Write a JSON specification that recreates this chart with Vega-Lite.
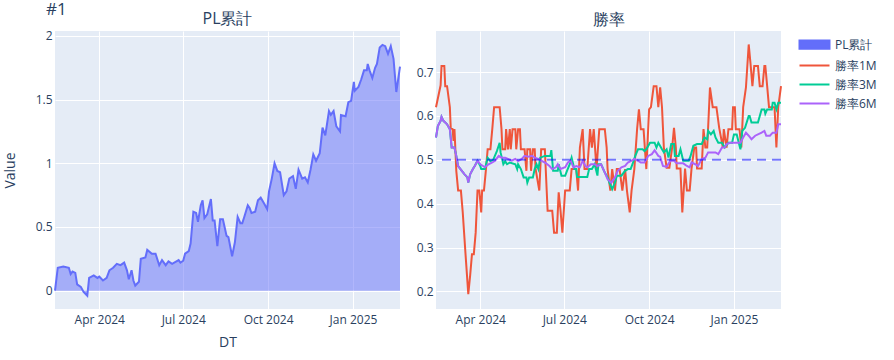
{
  "$schema": "https://vega.github.io/schema/vega-lite/v6.json",
  "padding": {"left": 3, "top": 0, "right": 0, "bottom": 0},
  "title": {"text": "#1", "anchor": "start", "frame": "group", "fontSize": 17, "offset": -21, "dx": -9, "baseline": "alphabetic"},
  "datasets": {
    "pl": [
      {"d":"2024-02-13","s":"PL累計","v":0},
      {"d":"2024-02-16","s":"PL累計","v":0.18},
      {"d":"2024-02-22","s":"PL累計","v":0.19},
      {"d":"2024-02-28","s":"PL累計","v":0.18},
      {"d":"2024-03-01","s":"PL累計","v":0.13},
      {"d":"2024-03-03","s":"PL累計","v":0.15},
      {"d":"2024-03-06","s":"PL累計","v":0.14},
      {"d":"2024-03-08","s":"PL累計","v":0.05},
      {"d":"2024-03-12","s":"PL累計","v":0.03},
      {"d":"2024-03-15","s":"PL累計","v":-0.01},
      {"d":"2024-03-19","s":"PL累計","v":-0.04},
      {"d":"2024-03-21","s":"PL累計","v":0.10},
      {"d":"2024-03-26","s":"PL累計","v":0.12},
      {"d":"2024-03-30","s":"PL累計","v":0.10},
      {"d":"2024-04-01","s":"PL累計","v":0.11},
      {"d":"2024-04-05","s":"PL累計","v":0.08},
      {"d":"2024-04-09","s":"PL累計","v":0.10},
      {"d":"2024-04-12","s":"PL累計","v":0.16},
      {"d":"2024-04-16","s":"PL累計","v":0.18},
      {"d":"2024-04-20","s":"PL累計","v":0.21},
      {"d":"2024-04-24","s":"PL累計","v":0.20},
      {"d":"2024-04-28","s":"PL累計","v":0.22},
      {"d":"2024-05-01","s":"PL累計","v":0.16},
      {"d":"2024-05-03","s":"PL累計","v":0.09},
      {"d":"2024-05-06","s":"PL累計","v":0.16},
      {"d":"2024-05-08","s":"PL累計","v":0.08},
      {"d":"2024-05-10","s":"PL累計","v":0.04},
      {"d":"2024-05-14","s":"PL累計","v":0.07},
      {"d":"2024-05-16","s":"PL累計","v":0.25},
      {"d":"2024-05-21","s":"PL累計","v":0.26},
      {"d":"2024-05-23","s":"PL累計","v":0.32},
      {"d":"2024-05-28","s":"PL累計","v":0.29},
      {"d":"2024-06-01","s":"PL累計","v":0.29},
      {"d":"2024-06-05","s":"PL累計","v":0.20},
      {"d":"2024-06-08","s":"PL累計","v":0.24},
      {"d":"2024-06-12","s":"PL累計","v":0.20},
      {"d":"2024-06-15","s":"PL累計","v":0.23},
      {"d":"2024-06-19","s":"PL累計","v":0.21},
      {"d":"2024-06-26","s":"PL累計","v":0.24},
      {"d":"2024-06-28","s":"PL累計","v":0.22},
      {"d":"2024-07-01","s":"PL累計","v":0.235},
      {"d":"2024-07-03","s":"PL累計","v":0.29},
      {"d":"2024-07-07","s":"PL累計","v":0.31},
      {"d":"2024-07-09","s":"PL累計","v":0.37},
      {"d":"2024-07-12","s":"PL累計","v":0.62},
      {"d":"2024-07-15","s":"PL累計","v":0.61},
      {"d":"2024-07-17","s":"PL累計","v":0.54},
      {"d":"2024-07-20","s":"PL累計","v":0.67},
      {"d":"2024-07-22","s":"PL累計","v":0.71},
      {"d":"2024-07-24","s":"PL累計","v":0.57},
      {"d":"2024-07-27","s":"PL累計","v":0.60},
      {"d":"2024-07-31","s":"PL累計","v":0.72},
      {"d":"2024-08-02","s":"PL累計","v":0.55},
      {"d":"2024-08-04","s":"PL累計","v":0.55},
      {"d":"2024-08-07","s":"PL累計","v":0.35},
      {"d":"2024-08-10","s":"PL累計","v":0.56},
      {"d":"2024-08-13","s":"PL累計","v":0.56},
      {"d":"2024-08-17","s":"PL累計","v":0.43},
      {"d":"2024-08-19","s":"PL累計","v":0.42},
      {"d":"2024-08-23","s":"PL累計","v":0.27},
      {"d":"2024-08-26","s":"PL累計","v":0.38},
      {"d":"2024-08-29","s":"PL累計","v":0.58},
      {"d":"2024-09-01","s":"PL累計","v":0.53},
      {"d":"2024-09-03","s":"PL累計","v":0.53},
      {"d":"2024-09-05","s":"PL累計","v":0.575},
      {"d":"2024-09-09","s":"PL累計","v":0.67},
      {"d":"2024-09-11","s":"PL累計","v":0.65},
      {"d":"2024-09-13","s":"PL累計","v":0.61},
      {"d":"2024-09-17","s":"PL累計","v":0.62},
      {"d":"2024-09-20","s":"PL累計","v":0.71},
      {"d":"2024-09-23","s":"PL累計","v":0.73},
      {"d":"2024-09-27","s":"PL累計","v":0.68},
      {"d":"2024-09-30","s":"PL累計","v":0.64},
      {"d":"2024-10-02","s":"PL累計","v":0.78},
      {"d":"2024-10-05","s":"PL累計","v":0.88},
      {"d":"2024-10-08","s":"PL累計","v":1.0},
      {"d":"2024-10-11","s":"PL累計","v":0.94},
      {"d":"2024-10-14","s":"PL累計","v":0.93},
      {"d":"2024-10-18","s":"PL累計","v":0.75},
      {"d":"2024-10-21","s":"PL累計","v":0.78},
      {"d":"2024-10-24","s":"PL累計","v":0.88},
      {"d":"2024-10-28","s":"PL累計","v":0.90},
      {"d":"2024-10-31","s":"PL累計","v":0.80},
      {"d":"2024-11-03","s":"PL累計","v":0.95},
      {"d":"2024-11-07","s":"PL累計","v":0.88},
      {"d":"2024-11-10","s":"PL累計","v":0.89},
      {"d":"2024-11-13","s":"PL累計","v":0.85},
      {"d":"2024-11-16","s":"PL累計","v":0.95},
      {"d":"2024-11-19","s":"PL累計","v":1.07},
      {"d":"2024-11-22","s":"PL累計","v":1.02},
      {"d":"2024-11-26","s":"PL累計","v":1.08},
      {"d":"2024-11-29","s":"PL累計","v":1.28},
      {"d":"2024-12-02","s":"PL累計","v":1.22},
      {"d":"2024-12-06","s":"PL累計","v":1.41},
      {"d":"2024-12-08","s":"PL累計","v":1.38},
      {"d":"2024-12-11","s":"PL累計","v":1.41},
      {"d":"2024-12-14","s":"PL累計","v":1.29},
      {"d":"2024-12-18","s":"PL累計","v":1.25},
      {"d":"2024-12-19","s":"PL累計","v":1.38},
      {"d":"2024-12-24","s":"PL累計","v":1.37},
      {"d":"2024-12-27","s":"PL累計","v":1.48},
      {"d":"2024-12-30","s":"PL累計","v":1.49},
      {"d":"2025-01-02","s":"PL累計","v":1.64},
      {"d":"2025-01-03","s":"PL累計","v":1.57},
      {"d":"2025-01-07","s":"PL累計","v":1.60},
      {"d":"2025-01-10","s":"PL累計","v":1.66},
      {"d":"2025-01-13","s":"PL累計","v":1.73},
      {"d":"2025-01-16","s":"PL累計","v":1.73},
      {"d":"2025-01-17","s":"PL累計","v":1.78},
      {"d":"2025-01-19","s":"PL累計","v":1.73},
      {"d":"2025-01-22","s":"PL累計","v":1.67},
      {"d":"2025-01-25","s":"PL累計","v":1.75},
      {"d":"2025-01-27","s":"PL累計","v":1.78},
      {"d":"2025-01-30","s":"PL累計","v":1.91},
      {"d":"2025-02-02","s":"PL累計","v":1.93},
      {"d":"2025-02-05","s":"PL累計","v":1.92},
      {"d":"2025-02-08","s":"PL累計","v":1.86},
      {"d":"2025-02-11","s":"PL累計","v":1.92},
      {"d":"2025-02-14","s":"PL累計","v":1.82},
      {"d":"2025-02-17","s":"PL累計","v":1.56},
      {"d":"2025-02-21","s":"PL累計","v":1.76}
    ],
    "wr": [
      {"d":"2024-02-13","s":"勝率1M","v":0.62},
      {"d":"2024-02-18","s":"勝率1M","v":0.67},
      {"d":"2024-02-19","s":"勝率1M","v":0.714},
      {"d":"2024-02-22","s":"勝率1M","v":0.714},
      {"d":"2024-02-23","s":"勝率1M","v":0.668},
      {"d":"2024-02-25","s":"勝率1M","v":0.668},
      {"d":"2024-02-28","s":"勝率1M","v":0.62},
      {"d":"2024-02-29","s":"勝率1M","v":0.572},
      {"d":"2024-03-02","s":"勝率1M","v":0.57},
      {"d":"2024-03-03","s":"勝率1M","v":0.543},
      {"d":"2024-03-04","s":"勝率1M","v":0.57},
      {"d":"2024-03-05","s":"勝率1M","v":0.524},
      {"d":"2024-03-06","s":"勝率1M","v":0.475},
      {"d":"2024-03-08","s":"勝率1M","v":0.43},
      {"d":"2024-03-11","s":"勝率1M","v":0.43},
      {"d":"2024-03-13","s":"勝率1M","v":0.38},
      {"d":"2024-03-16","s":"勝率1M","v":0.285},
      {"d":"2024-03-19","s":"勝率1M","v":0.194},
      {"d":"2024-03-21","s":"勝率1M","v":0.236},
      {"d":"2024-03-23","s":"勝率1M","v":0.285},
      {"d":"2024-03-25","s":"勝率1M","v":0.285},
      {"d":"2024-03-27","s":"勝率1M","v":0.334},
      {"d":"2024-03-29","s":"勝率1M","v":0.43},
      {"d":"2024-03-31","s":"勝率1M","v":0.43},
      {"d":"2024-04-02","s":"勝率1M","v":0.38},
      {"d":"2024-04-03","s":"勝率1M","v":0.43},
      {"d":"2024-04-05","s":"勝率1M","v":0.43},
      {"d":"2024-04-07","s":"勝率1M","v":0.475},
      {"d":"2024-04-09","s":"勝率1M","v":0.524},
      {"d":"2024-04-12","s":"勝率1M","v":0.524},
      {"d":"2024-04-14","s":"勝率1M","v":0.57},
      {"d":"2024-04-16","s":"勝率1M","v":0.62},
      {"d":"2024-04-22","s":"勝率1M","v":0.62},
      {"d":"2024-04-24","s":"勝率1M","v":0.57},
      {"d":"2024-04-25","s":"勝率1M","v":0.524},
      {"d":"2024-04-28","s":"勝率1M","v":0.524},
      {"d":"2024-04-29","s":"勝率1M","v":0.57},
      {"d":"2024-05-01","s":"勝率1M","v":0.524},
      {"d":"2024-05-03","s":"勝率1M","v":0.57},
      {"d":"2024-05-04","s":"勝率1M","v":0.524},
      {"d":"2024-05-06","s":"勝率1M","v":0.57},
      {"d":"2024-05-09","s":"勝率1M","v":0.57},
      {"d":"2024-05-10","s":"勝率1M","v":0.524},
      {"d":"2024-05-12","s":"勝率1M","v":0.57},
      {"d":"2024-05-14","s":"勝率1M","v":0.57},
      {"d":"2024-05-15","s":"勝率1M","v":0.524},
      {"d":"2024-05-19","s":"勝率1M","v":0.524},
      {"d":"2024-05-21","s":"勝率1M","v":0.475},
      {"d":"2024-05-22","s":"勝率1M","v":0.524},
      {"d":"2024-05-25","s":"勝率1M","v":0.524},
      {"d":"2024-05-26","s":"勝率1M","v":0.475},
      {"d":"2024-05-28","s":"勝率1M","v":0.524},
      {"d":"2024-05-30","s":"勝率1M","v":0.524},
      {"d":"2024-05-31","s":"勝率1M","v":0.479},
      {"d":"2024-06-04","s":"勝率1M","v":0.43},
      {"d":"2024-06-06","s":"勝率1M","v":0.524},
      {"d":"2024-06-10","s":"勝率1M","v":0.524},
      {"d":"2024-06-12","s":"勝率1M","v":0.43},
      {"d":"2024-06-13","s":"勝率1M","v":0.384},
      {"d":"2024-06-18","s":"勝率1M","v":0.384},
      {"d":"2024-06-20","s":"勝率1M","v":0.334},
      {"d":"2024-06-23","s":"勝率1M","v":0.334},
      {"d":"2024-06-25","s":"勝率1M","v":0.426},
      {"d":"2024-06-27","s":"勝率1M","v":0.384},
      {"d":"2024-06-29","s":"勝率1M","v":0.334},
      {"d":"2024-07-02","s":"勝率1M","v":0.43},
      {"d":"2024-07-07","s":"勝率1M","v":0.43},
      {"d":"2024-07-09","s":"勝率1M","v":0.479},
      {"d":"2024-07-14","s":"勝率1M","v":0.479},
      {"d":"2024-07-16","s":"勝率1M","v":0.43},
      {"d":"2024-07-18","s":"勝率1M","v":0.528},
      {"d":"2024-07-21","s":"勝率1M","v":0.57},
      {"d":"2024-07-23","s":"勝率1M","v":0.479},
      {"d":"2024-07-26","s":"勝率1M","v":0.479},
      {"d":"2024-07-29","s":"勝率1M","v":0.57},
      {"d":"2024-07-31","s":"勝率1M","v":0.528},
      {"d":"2024-08-02","s":"勝率1M","v":0.57},
      {"d":"2024-08-05","s":"勝率1M","v":0.479},
      {"d":"2024-08-08","s":"勝率1M","v":0.57},
      {"d":"2024-08-14","s":"勝率1M","v":0.57},
      {"d":"2024-08-16","s":"勝率1M","v":0.528},
      {"d":"2024-08-17","s":"勝率1M","v":0.479},
      {"d":"2024-08-20","s":"勝率1M","v":0.43},
      {"d":"2024-08-22","s":"勝率1M","v":0.479},
      {"d":"2024-08-25","s":"勝率1M","v":0.43},
      {"d":"2024-08-27","s":"勝率1M","v":0.479},
      {"d":"2024-08-30","s":"勝率1M","v":0.479},
      {"d":"2024-09-02","s":"勝率1M","v":0.43},
      {"d":"2024-09-05","s":"勝率1M","v":0.479},
      {"d":"2024-09-07","s":"勝率1M","v":0.43},
      {"d":"2024-09-10","s":"勝率1M","v":0.38},
      {"d":"2024-09-12","s":"勝率1M","v":0.43},
      {"d":"2024-09-15","s":"勝率1M","v":0.479},
      {"d":"2024-09-18","s":"勝率1M","v":0.57},
      {"d":"2024-09-20","s":"勝率1M","v":0.615},
      {"d":"2024-09-22","s":"勝率1M","v":0.57},
      {"d":"2024-09-25","s":"勝率1M","v":0.57},
      {"d":"2024-09-28","s":"勝率1M","v":0.479},
      {"d":"2024-10-01","s":"勝率1M","v":0.615},
      {"d":"2024-10-03","s":"勝率1M","v":0.62},
      {"d":"2024-10-06","s":"勝率1M","v":0.668},
      {"d":"2024-10-09","s":"勝率1M","v":0.668},
      {"d":"2024-10-11","s":"勝率1M","v":0.62},
      {"d":"2024-10-13","s":"勝率1M","v":0.665},
      {"d":"2024-10-15","s":"勝率1M","v":0.62},
      {"d":"2024-10-17","s":"勝率1M","v":0.528},
      {"d":"2024-10-20","s":"勝率1M","v":0.482},
      {"d":"2024-10-23","s":"勝率1M","v":0.482},
      {"d":"2024-10-26","s":"勝率1M","v":0.528},
      {"d":"2024-10-28","s":"勝率1M","v":0.573},
      {"d":"2024-10-30","s":"勝率1M","v":0.528},
      {"d":"2024-10-31","s":"勝率1M","v":0.48},
      {"d":"2024-11-04","s":"勝率1M","v":0.48},
      {"d":"2024-11-06","s":"勝率1M","v":0.38},
      {"d":"2024-11-09","s":"勝率1M","v":0.48},
      {"d":"2024-11-11","s":"勝率1M","v":0.43},
      {"d":"2024-11-14","s":"勝率1M","v":0.43},
      {"d":"2024-11-16","s":"勝率1M","v":0.48},
      {"d":"2024-11-19","s":"勝率1M","v":0.528},
      {"d":"2024-11-21","s":"勝率1M","v":0.528},
      {"d":"2024-11-22","s":"勝率1M","v":0.48},
      {"d":"2024-11-27","s":"勝率1M","v":0.48},
      {"d":"2024-11-29","s":"勝率1M","v":0.57},
      {"d":"2024-12-01","s":"勝率1M","v":0.528},
      {"d":"2024-12-03","s":"勝率1M","v":0.528},
      {"d":"2024-12-06","s":"勝率1M","v":0.665},
      {"d":"2024-12-09","s":"勝率1M","v":0.62},
      {"d":"2024-12-13","s":"勝率1M","v":0.62},
      {"d":"2024-12-16","s":"勝率1M","v":0.573},
      {"d":"2024-12-20","s":"勝率1M","v":0.528},
      {"d":"2024-12-21","s":"勝率1M","v":0.57},
      {"d":"2024-12-24","s":"勝率1M","v":0.528},
      {"d":"2024-12-26","s":"勝率1M","v":0.57},
      {"d":"2024-12-30","s":"勝率1M","v":0.57},
      {"d":"2024-12-31","s":"勝率1M","v":0.62},
      {"d":"2025-01-02","s":"勝率1M","v":0.62},
      {"d":"2025-01-03","s":"勝率1M","v":0.57},
      {"d":"2025-01-07","s":"勝率1M","v":0.57},
      {"d":"2025-01-09","s":"勝率1M","v":0.528},
      {"d":"2025-01-11","s":"勝率1M","v":0.62},
      {"d":"2025-01-14","s":"勝率1M","v":0.665},
      {"d":"2025-01-17","s":"勝率1M","v":0.763},
      {"d":"2025-01-19","s":"勝率1M","v":0.718},
      {"d":"2025-01-21","s":"勝率1M","v":0.668},
      {"d":"2025-01-23","s":"勝率1M","v":0.714},
      {"d":"2025-01-27","s":"勝率1M","v":0.714},
      {"d":"2025-01-29","s":"勝率1M","v":0.668},
      {"d":"2025-02-01","s":"勝率1M","v":0.668},
      {"d":"2025-02-03","s":"勝率1M","v":0.714},
      {"d":"2025-02-04","s":"勝率1M","v":0.714},
      {"d":"2025-02-06","s":"勝率1M","v":0.668},
      {"d":"2025-02-08","s":"勝率1M","v":0.62},
      {"d":"2025-02-14","s":"勝率1M","v":0.62},
      {"d":"2025-02-16","s":"勝率1M","v":0.528},
      {"d":"2025-02-18","s":"勝率1M","v":0.62},
      {"d":"2025-02-21","s":"勝率1M","v":0.668},

      {"d":"2024-02-13","s":"勝率3M","v":0.551},
      {"d":"2024-02-15","s":"勝率3M","v":0.577},
      {"d":"2024-02-18","s":"勝率3M","v":0.589},
      {"d":"2024-02-19","s":"勝率3M","v":0.598},
      {"d":"2024-02-21","s":"勝率3M","v":0.589},
      {"d":"2024-02-23","s":"勝率3M","v":0.585},
      {"d":"2024-02-25","s":"勝率3M","v":0.581},
      {"d":"2024-02-28","s":"勝率3M","v":0.57},
      {"d":"2024-03-01","s":"勝率3M","v":0.528},
      {"d":"2024-03-04","s":"勝率3M","v":0.528},
      {"d":"2024-03-06","s":"勝率3M","v":0.509},
      {"d":"2024-03-08","s":"勝率3M","v":0.486},
      {"d":"2024-03-12","s":"勝率3M","v":0.475},
      {"d":"2024-03-15","s":"勝率3M","v":0.467},
      {"d":"2024-03-18","s":"勝率3M","v":0.46},
      {"d":"2024-03-19","s":"勝率3M","v":0.448},
      {"d":"2024-03-21","s":"勝率3M","v":0.467},
      {"d":"2024-03-24","s":"勝率3M","v":0.479},
      {"d":"2024-03-26","s":"勝率3M","v":0.486},
      {"d":"2024-03-29","s":"勝率3M","v":0.498},
      {"d":"2024-04-01","s":"勝率3M","v":0.486},
      {"d":"2024-04-02","s":"勝率3M","v":0.479},
      {"d":"2024-04-06","s":"勝率3M","v":0.479},
      {"d":"2024-04-09","s":"勝率3M","v":0.505},
      {"d":"2024-04-12","s":"勝率3M","v":0.497},
      {"d":"2024-04-15","s":"勝率3M","v":0.5},
      {"d":"2024-04-19","s":"勝率3M","v":0.52},
      {"d":"2024-04-22","s":"勝率3M","v":0.539},
      {"d":"2024-04-23","s":"勝率3M","v":0.517},
      {"d":"2024-04-26","s":"勝率3M","v":0.49},
      {"d":"2024-04-28","s":"勝率3M","v":0.497},
      {"d":"2024-04-30","s":"勝率3M","v":0.49},
      {"d":"2024-05-03","s":"勝率3M","v":0.494},
      {"d":"2024-05-09","s":"勝率3M","v":0.49},
      {"d":"2024-05-11","s":"勝率3M","v":0.479},
      {"d":"2024-05-12","s":"勝率3M","v":0.49},
      {"d":"2024-05-15","s":"勝率3M","v":0.479},
      {"d":"2024-05-18","s":"勝率3M","v":0.46},
      {"d":"2024-05-21","s":"勝率3M","v":0.46},
      {"d":"2024-05-22","s":"勝率3M","v":0.448},
      {"d":"2024-05-24","s":"勝率3M","v":0.46},
      {"d":"2024-05-28","s":"勝率3M","v":0.46},
      {"d":"2024-05-30","s":"勝率3M","v":0.479},
      {"d":"2024-06-01","s":"勝率3M","v":0.49},
      {"d":"2024-06-03","s":"勝率3M","v":0.479},
      {"d":"2024-06-05","s":"勝率3M","v":0.505},
      {"d":"2024-06-10","s":"勝率3M","v":0.509},
      {"d":"2024-06-16","s":"勝率3M","v":0.509},
      {"d":"2024-06-17","s":"勝率3M","v":0.522},
      {"d":"2024-06-19","s":"勝率3M","v":0.475},
      {"d":"2024-06-24","s":"勝率3M","v":0.475},
      {"d":"2024-06-25","s":"勝率3M","v":0.49},
      {"d":"2024-06-28","s":"勝率3M","v":0.464},
      {"d":"2024-07-02","s":"勝率3M","v":0.464},
      {"d":"2024-07-04","s":"勝率3M","v":0.475},
      {"d":"2024-07-07","s":"勝率3M","v":0.49},
      {"d":"2024-07-09","s":"勝率3M","v":0.505},
      {"d":"2024-07-12","s":"勝率3M","v":0.479},
      {"d":"2024-07-14","s":"勝率3M","v":0.479},
      {"d":"2024-07-15","s":"勝率3M","v":0.461},
      {"d":"2024-07-26","s":"勝率3M","v":0.461},
      {"d":"2024-07-28","s":"勝率3M","v":0.479},
      {"d":"2024-07-31","s":"勝率3M","v":0.479},
      {"d":"2024-08-03","s":"勝率3M","v":0.49},
      {"d":"2024-08-06","s":"勝率3M","v":0.464},
      {"d":"2024-08-07","s":"勝率3M","v":0.49},
      {"d":"2024-08-10","s":"勝率3M","v":0.49},
      {"d":"2024-08-14","s":"勝率3M","v":0.471},
      {"d":"2024-08-17","s":"勝率3M","v":0.46},
      {"d":"2024-08-19","s":"勝率3M","v":0.448},
      {"d":"2024-08-22","s":"勝率3M","v":0.433},
      {"d":"2024-08-25","s":"勝率3M","v":0.448},
      {"d":"2024-08-27","s":"勝率3M","v":0.464},
      {"d":"2024-09-01","s":"勝率3M","v":0.464},
      {"d":"2024-09-05","s":"勝率3M","v":0.475},
      {"d":"2024-09-08","s":"勝率3M","v":0.479},
      {"d":"2024-09-11","s":"勝率3M","v":0.479},
      {"d":"2024-09-13","s":"勝率3M","v":0.49},
      {"d":"2024-09-16","s":"勝率3M","v":0.509},
      {"d":"2024-09-19","s":"勝率3M","v":0.524},
      {"d":"2024-09-24","s":"勝率3M","v":0.524},
      {"d":"2024-09-26","s":"勝率3M","v":0.52},
      {"d":"2024-09-28","s":"勝率3M","v":0.524},
      {"d":"2024-10-02","s":"勝率3M","v":0.539},
      {"d":"2024-10-07","s":"勝率3M","v":0.539},
      {"d":"2024-10-09","s":"勝率3M","v":0.528},
      {"d":"2024-10-11","s":"勝率3M","v":0.539},
      {"d":"2024-10-15","s":"勝率3M","v":0.524},
      {"d":"2024-10-17","s":"勝率3M","v":0.517},
      {"d":"2024-10-20","s":"勝率3M","v":0.524},
      {"d":"2024-10-22","s":"勝率3M","v":0.505},
      {"d":"2024-10-25","s":"勝率3M","v":0.536},
      {"d":"2024-10-28","s":"勝率3M","v":0.536},
      {"d":"2024-10-29","s":"勝率3M","v":0.509},
      {"d":"2024-11-02","s":"勝率3M","v":0.509},
      {"d":"2024-11-04","s":"勝率3M","v":0.524},
      {"d":"2024-11-07","s":"勝率3M","v":0.498},
      {"d":"2024-11-13","s":"勝率3M","v":0.498},
      {"d":"2024-11-15","s":"勝率3M","v":0.509},
      {"d":"2024-11-18","s":"勝率3M","v":0.532},
      {"d":"2024-11-22","s":"勝率3M","v":0.536},
      {"d":"2024-11-27","s":"勝率3M","v":0.536},
      {"d":"2024-11-30","s":"勝率3M","v":0.551},
      {"d":"2024-12-03","s":"勝率3M","v":0.547},
      {"d":"2024-12-04","s":"勝率3M","v":0.566},
      {"d":"2024-12-07","s":"勝率3M","v":0.558},
      {"d":"2024-12-10","s":"勝率3M","v":0.566},
      {"d":"2024-12-12","s":"勝率3M","v":0.551},
      {"d":"2024-12-15","s":"勝率3M","v":0.539},
      {"d":"2024-12-19","s":"勝率3M","v":0.539},
      {"d":"2024-12-22","s":"勝率3M","v":0.528},
      {"d":"2024-12-26","s":"勝率3M","v":0.539},
      {"d":"2024-12-30","s":"勝率3M","v":0.539},
      {"d":"2025-01-01","s":"勝率3M","v":0.558},
      {"d":"2025-01-04","s":"勝率3M","v":0.558},
      {"d":"2025-01-08","s":"勝率3M","v":0.524},
      {"d":"2025-01-10","s":"勝率3M","v":0.566},
      {"d":"2025-01-13","s":"勝率3M","v":0.573},
      {"d":"2025-01-17","s":"勝率3M","v":0.6},
      {"d":"2025-01-18","s":"勝率3M","v":0.6},
      {"d":"2025-01-20","s":"勝率3M","v":0.585},
      {"d":"2025-01-27","s":"勝率3M","v":0.585},
      {"d":"2025-01-29","s":"勝率3M","v":0.6},
      {"d":"2025-01-31","s":"勝率3M","v":0.615},
      {"d":"2025-02-03","s":"勝率3M","v":0.615},
      {"d":"2025-02-04","s":"勝率3M","v":0.605},
      {"d":"2025-02-06","s":"勝率3M","v":0.615},
      {"d":"2025-02-11","s":"勝率3M","v":0.615},
      {"d":"2025-02-12","s":"勝率3M","v":0.63},
      {"d":"2025-02-14","s":"勝率3M","v":0.63},
      {"d":"2025-02-16","s":"勝率3M","v":0.615},
      {"d":"2025-02-18","s":"勝率3M","v":0.63},
      {"d":"2025-02-21","s":"勝率3M","v":0.63},

      {"d":"2024-02-13","s":"勝率6M","v":0.551},
      {"d":"2024-02-15","s":"勝率6M","v":0.577},
      {"d":"2024-02-18","s":"勝率6M","v":0.589},
      {"d":"2024-02-19","s":"勝率6M","v":0.598},
      {"d":"2024-02-21","s":"勝率6M","v":0.589},
      {"d":"2024-02-23","s":"勝率6M","v":0.585},
      {"d":"2024-02-25","s":"勝率6M","v":0.581},
      {"d":"2024-02-28","s":"勝率6M","v":0.57},
      {"d":"2024-03-01","s":"勝率6M","v":0.528},
      {"d":"2024-03-04","s":"勝率6M","v":0.528},
      {"d":"2024-03-06","s":"勝率6M","v":0.509},
      {"d":"2024-03-08","s":"勝率6M","v":0.486},
      {"d":"2024-03-12","s":"勝率6M","v":0.475},
      {"d":"2024-03-15","s":"勝率6M","v":0.467},
      {"d":"2024-03-18","s":"勝率6M","v":0.46},
      {"d":"2024-03-19","s":"勝率6M","v":0.448},
      {"d":"2024-03-21","s":"勝率6M","v":0.467},
      {"d":"2024-03-24","s":"勝率6M","v":0.479},
      {"d":"2024-03-26","s":"勝率6M","v":0.486},
      {"d":"2024-03-29","s":"勝率6M","v":0.498},
      {"d":"2024-04-01","s":"勝率6M","v":0.49},
      {"d":"2024-04-04","s":"勝率6M","v":0.486},
      {"d":"2024-04-06","s":"勝率6M","v":0.483},
      {"d":"2024-04-10","s":"勝率6M","v":0.49},
      {"d":"2024-04-14","s":"勝率6M","v":0.494},
      {"d":"2024-04-17","s":"勝率6M","v":0.498},
      {"d":"2024-04-21","s":"勝率6M","v":0.509},
      {"d":"2024-04-24","s":"勝率6M","v":0.505},
      {"d":"2024-04-28","s":"勝率6M","v":0.505},
      {"d":"2024-05-01","s":"勝率6M","v":0.502},
      {"d":"2024-05-05","s":"勝率6M","v":0.498},
      {"d":"2024-05-09","s":"勝率6M","v":0.502},
      {"d":"2024-05-12","s":"勝率6M","v":0.497},
      {"d":"2024-05-16","s":"勝率6M","v":0.502},
      {"d":"2024-05-19","s":"勝率6M","v":0.509},
      {"d":"2024-05-23","s":"勝率6M","v":0.507},
      {"d":"2024-05-27","s":"勝率6M","v":0.509},
      {"d":"2024-05-30","s":"勝率6M","v":0.505},
      {"d":"2024-06-03","s":"勝率6M","v":0.502},
      {"d":"2024-06-06","s":"勝率6M","v":0.498},
      {"d":"2024-06-10","s":"勝率6M","v":0.494},
      {"d":"2024-06-15","s":"勝率6M","v":0.486},
      {"d":"2024-06-18","s":"勝率6M","v":0.479},
      {"d":"2024-06-22","s":"勝率6M","v":0.483},
      {"d":"2024-06-24","s":"勝率6M","v":0.49},
      {"d":"2024-06-27","s":"勝率6M","v":0.479},
      {"d":"2024-07-02","s":"勝率6M","v":0.483},
      {"d":"2024-07-05","s":"勝率6M","v":0.494},
      {"d":"2024-07-08","s":"勝率6M","v":0.498},
      {"d":"2024-07-11","s":"勝率6M","v":0.483},
      {"d":"2024-07-14","s":"勝率6M","v":0.486},
      {"d":"2024-07-18","s":"勝率6M","v":0.483},
      {"d":"2024-07-21","s":"勝率6M","v":0.498},
      {"d":"2024-07-24","s":"勝率6M","v":0.486},
      {"d":"2024-07-26","s":"勝率6M","v":0.483},
      {"d":"2024-07-30","s":"勝率6M","v":0.49},
      {"d":"2024-08-03","s":"勝率6M","v":0.49},
      {"d":"2024-08-06","s":"勝率6M","v":0.486},
      {"d":"2024-08-10","s":"勝率6M","v":0.49},
      {"d":"2024-08-14","s":"勝率6M","v":0.471},
      {"d":"2024-08-17","s":"勝率6M","v":0.456},
      {"d":"2024-08-21","s":"勝率6M","v":0.448},
      {"d":"2024-08-25","s":"勝率6M","v":0.46},
      {"d":"2024-08-28","s":"勝率6M","v":0.475},
      {"d":"2024-09-01","s":"勝率6M","v":0.483},
      {"d":"2024-09-05","s":"勝率6M","v":0.486},
      {"d":"2024-09-08","s":"勝率6M","v":0.494},
      {"d":"2024-09-12","s":"勝率6M","v":0.498},
      {"d":"2024-09-15","s":"勝率6M","v":0.502},
      {"d":"2024-09-19","s":"勝率6M","v":0.498},
      {"d":"2024-09-22","s":"勝率6M","v":0.494},
      {"d":"2024-09-26","s":"勝率6M","v":0.494},
      {"d":"2024-09-30","s":"勝率6M","v":0.509},
      {"d":"2024-10-04","s":"勝率6M","v":0.513},
      {"d":"2024-10-07","s":"勝率6M","v":0.522},
      {"d":"2024-10-11","s":"勝率6M","v":0.509},
      {"d":"2024-10-13","s":"勝率6M","v":0.507},
      {"d":"2024-10-16","s":"勝率6M","v":0.486},
      {"d":"2024-10-20","s":"勝率6M","v":0.484},
      {"d":"2024-10-24","s":"勝率6M","v":0.498},
      {"d":"2024-10-28","s":"勝率6M","v":0.498},
      {"d":"2024-10-31","s":"勝率6M","v":0.492},
      {"d":"2024-11-07","s":"勝率6M","v":0.492},
      {"d":"2024-11-11","s":"勝率6M","v":0.486},
      {"d":"2024-11-14","s":"勝率6M","v":0.483},
      {"d":"2024-11-16","s":"勝率6M","v":0.494},
      {"d":"2024-11-20","s":"勝率6M","v":0.49},
      {"d":"2024-11-23","s":"勝率6M","v":0.486},
      {"d":"2024-11-27","s":"勝率6M","v":0.502},
      {"d":"2024-12-01","s":"勝率6M","v":0.505},
      {"d":"2024-12-04","s":"勝率6M","v":0.517},
      {"d":"2024-12-12","s":"勝率6M","v":0.517},
      {"d":"2024-12-15","s":"勝率6M","v":0.513},
      {"d":"2024-12-19","s":"勝率6M","v":0.528},
      {"d":"2024-12-22","s":"勝率6M","v":0.528},
      {"d":"2024-12-24","s":"勝率6M","v":0.536},
      {"d":"2024-12-28","s":"勝率6M","v":0.539},
      {"d":"2025-01-08","s":"勝率6M","v":0.539},
      {"d":"2025-01-11","s":"勝率6M","v":0.551},
      {"d":"2025-01-14","s":"勝率6M","v":0.562},
      {"d":"2025-01-17","s":"勝率6M","v":0.555},
      {"d":"2025-01-20","s":"勝率6M","v":0.547},
      {"d":"2025-01-24","s":"勝率6M","v":0.555},
      {"d":"2025-01-27","s":"勝率6M","v":0.558},
      {"d":"2025-01-31","s":"勝率6M","v":0.562},
      {"d":"2025-02-03","s":"勝率6M","v":0.566},
      {"d":"2025-02-05","s":"勝率6M","v":0.555},
      {"d":"2025-02-09","s":"勝率6M","v":0.555},
      {"d":"2025-02-12","s":"勝率6M","v":0.562},
      {"d":"2025-02-16","s":"勝率6M","v":0.562},
      {"d":"2025-02-18","s":"勝率6M","v":0.581},
      {"d":"2025-02-21","s":"勝率6M","v":0.581}
    ],
    "hline": [{"y": 0.5}]
  },
  "hconcat": [
    {
      "width": 345,
      "height": 278,
      "title": {"text": "PL累計", "offset": -10, "baseline": "alphabetic"},
      "data": {"name": "pl"},
      "mark": {"type": "area", "fillOpacity": 0.5, "line": {"strokeWidth": 2}},
      "encoding": {
        "x": {"field": "d", "type": "temporal", "title": "DT",
              "scale": {"domain": [{"year": 2024, "month": 2, "date": 13}, {"year": 2025, "month": 2, "date": 21}]},
              "axis": {"values": [{"year": 2024, "month": 4, "date": 1}, {"year": 2024, "month": 7, "date": 1}, {"year": 2024, "month": 10, "date": 1}, {"year": 2025, "month": 1, "date": 1}],
                       "format": "%b %Y", "labelFlush": false, "labelPadding": 5, "titlePadding": 10}},
        "y": {"field": "v", "type": "quantitative", "title": "Value",
              "scale": {"domain": [-0.144, 2.039], "nice": false, "zero": false},
              "axis": {"values": [0, 0.5, 1, 1.5, 2], "format": "~g", "labelPadding": 3, "titlePadding": 18}},
        "y2": {"datum": 0},
        "color": {"field": "s", "type": "nominal",
                  "legend": {"encode": {"symbols": {"update": {
                    "shape": {"signal": "datum.value === 'PL累計' ? 'M-2,-0.55H2V0.55H-2Z' : 'M-2,0H2'"},
                    "fill": {"signal": "datum.value === 'PL累計' ? '#a4adf8' : 'transparent'"},
                    "fillOpacity": {"value": 1},
                    "stroke": {"signal": "scale('color', datum.value)"},
                    "strokeWidth": {"value": 2},
                    "opacity": {"value": 1}
                  }}}}}
      }
    },
    {
      "width": 345,
      "height": 278,
      "title": {"text": "勝率", "offset": -10, "baseline": "alphabetic"},
      "layer": [
        {
          "data": {"name": "wr"},
          "mark": {"type": "line", "strokeWidth": 2},
          "encoding": {
            "x": {"field": "d", "type": "temporal", "title": null,
                  "scale": {"domain": [{"year": 2024, "month": 2, "date": 13}, {"year": 2025, "month": 2, "date": 21}]},
                  "axis": {"values": [{"year": 2024, "month": 4, "date": 1}, {"year": 2024, "month": 7, "date": 1}, {"year": 2024, "month": 10, "date": 1}, {"year": 2025, "month": 1, "date": 1}],
                           "format": "%b %Y", "labelFlush": false, "labelPadding": 5}},
            "y": {"field": "v", "type": "quantitative", "title": null,
                  "scale": {"domain": [0.16, 0.7937], "nice": false, "zero": false},
                  "axis": {"values": [0.2, 0.3, 0.4, 0.5, 0.6, 0.7], "format": "~g", "labelPadding": 3}},
            "color": {"field": "s", "type": "nominal"}
          }
        },
        {
          "data": {"name": "hline"},
          "mark": {"type": "rule", "stroke": "blue", "opacity": 0.5, "strokeWidth": 2, "strokeDash": [9, 6]},
          "encoding": {"y": {"field": "y", "type": "quantitative"}}
        }
      ]
    }
  ],
  "spacing": 36,
  "bounds": "flush",
  "resolve": {"scale": {"color": "shared"}, "legend": {"color": "shared"}},
  "config": {
    "font": "Open Sans",
    "view": {"fill": "#E5ECF6", "stroke": null},
    "range": {"category": ["#636EFA", "#EF553B", "#00CC96", "#AB63FA"]},
    "axis": {"domain": false, "ticks": false, "gridColor": "#ffffff", "gridWidth": 1, "gridOpacity": 1,
             "labelColor": "#2a3f5f", "labelFontSize": 12, "labelFont": "Open Sans",
             "titleColor": "#2a3f5f", "titleFontSize": 14, "titleFontWeight": "normal", "titleFont": "Open Sans", "labelOverlap": false},
    "title": {"fontSize": 16, "fontWeight": "normal", "color": "#2a3f5f", "font": "Open Sans"},
    "legend": {
      "orient": "none", "legendX": 751, "legendY": 5, "title": null,
      "symbolSize": 225, "symbolStrokeWidth": 2, "labelFontSize": 12, "labelColor": "#2a3f5f", "labelFont": "Open Sans",
      "rowPadding": 4, "labelOffset": 12, "padding": 0,
      "symbolType": "stroke"
    }
  }
}
